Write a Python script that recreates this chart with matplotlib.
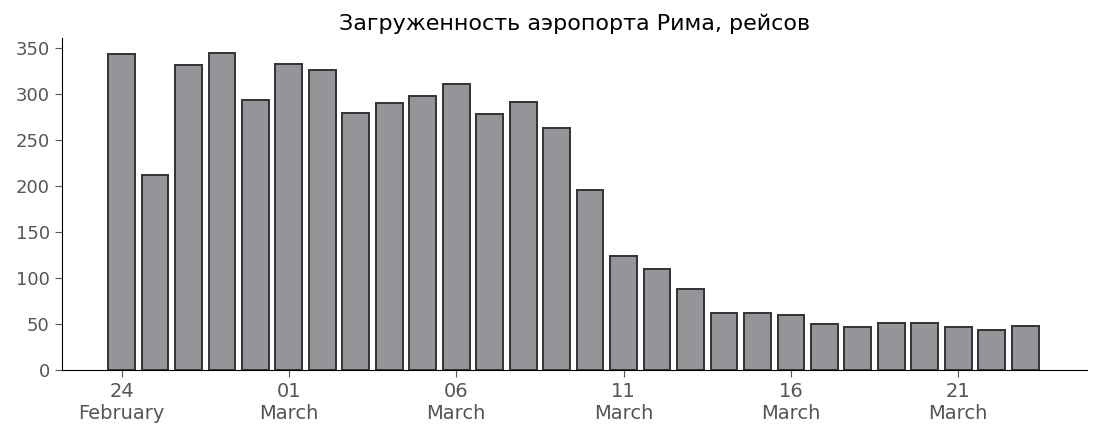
import numpy as np
import matplotlib
matplotlib.use('Agg')
import matplotlib.pyplot as plt

# Данные: рейсы в день
days = ['24', '25', '26', '27', '28'] + ['%02d' % d for d in range(1, 24)]
months = ['February'] * 5 + ['March'] * 23
flights = [344, 212, 332, 345, 294, 333, 326, 280, 291, 298, 311, 279, 292, 263,
           196, 124, 110, 88, 62, 62, 60, 50, 47, 51, 51, 47, 44, 48]

x = np.arange(len(flights))

fig = plt.figure(figsize=(11, 4.34), dpi=100)
ax = fig.add_axes([0.056, 0.147, 0.932, 0.765])

ax.bar(x, flights, width=0.8, color='#939598', edgecolor='#333333', linewidth=1.4)

# подписи по оси X каждые 5 дней
tick_idx = x[::5]
ax.set_xticks(tick_idx)
ax.set_xticklabels([days[i] + '\n' + months[i] for i in tick_idx])
ax.set_xlim(-1.79, 28.84)
ax.set_ylim(0, 361)
ax.set_yticks(range(0, 351, 50))

ax.set_title('Загруженность аэропорта Рима, рейсов', fontsize=16, color='black', pad=6)

ax.tick_params(axis='both', labelcolor='#555555', color='#555555', length=5)
ax.tick_params(axis='x', labelsize=14)
ax.tick_params(axis='y', labelsize=13)
for s in ['top', 'right']:
    ax.spines[s].set_visible(False)
ax.spines['left'].set_color('black')
ax.spines['bottom'].set_color('black')

fig.savefig('out.png', dpi=100)
